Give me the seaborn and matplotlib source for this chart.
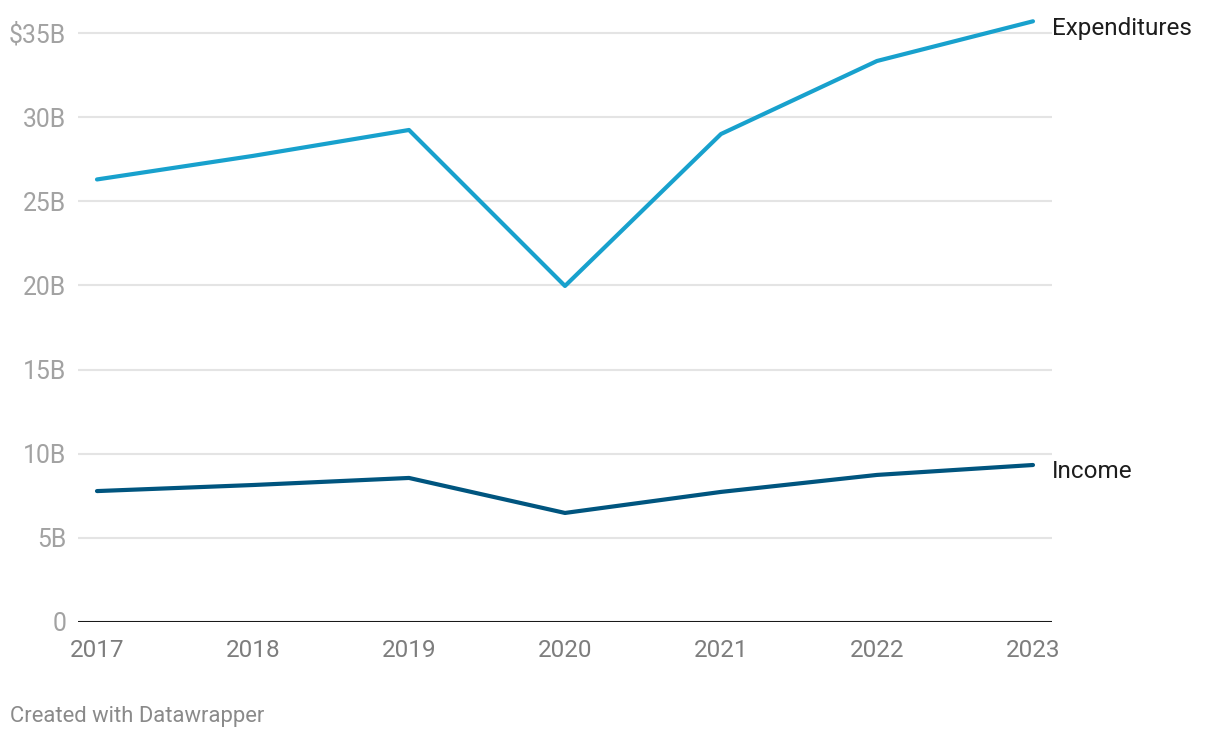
import pandas as pd
import matplotlib.pyplot as plt
import seaborn as sns

# values (billions of dollars)
years = [2017, 2018, 2019, 2020, 2021, 2022, 2023]
expenditures = [26.3, 27.7, 29.24, 19.97, 29.0, 33.34, 35.7]
income = [7.78, 8.14, 8.56, 6.48, 7.73, 8.74, 9.33]
yticks = [0, 5, 10, 15, 20, 25, 30, 35]
ytick_labels = ['0', '5B', '10B', '15B', '20B', '25B', '30B', '$35B']

df = pd.DataFrame({
    'year': years * 2,
    'value': expenditures + income,
    'series': ['Expenditures'] * len(years) + ['Income'] * len(years),
})

sns.set_style('white')
plt.rcParams['font.family'] = ['Roboto', 'DejaVu Sans']

fig = plt.figure(figsize=(12.2, 7.38), dpi=100)
ax = fig.add_axes([0.0639, 0.1572, 0.7984, 0.8208])

colors = {'Expenditures': '#18a1cd', 'Income': '#00557f'}
sns.lineplot(data=df, x='year', y='value', hue='series', palette=colors,
             linewidth=3, legend=False, ax=ax, zorder=3)

ax.set_xlim(2016.878, 2023.122)
ax.set_ylim(0, 36)
ax.set_yticks(yticks)
ax.set_yticklabels(ytick_labels)
ax.set_xticks(years)
ax.set_xticklabels([str(y) for y in years])
ax.grid(axis='y', color='#e4e4e4', linewidth=1.5, zorder=0)
ax.axhline(0, color='#1a1a1a', linewidth=2.2, zorder=4)
for s in ax.spines.values():
    s.set_visible(False)
ax.tick_params(axis='y', length=0, pad=8.5, labelsize=17.8, labelcolor='#a2a2a2')
ax.tick_params(axis='x', length=0, pad=12, labelsize=17.5, labelcolor='#7d7d7d')
ax.set_xlabel('')
ax.set_ylabel('')

# direct labels at line ends
ax.text(years[-1] + 0.12, expenditures[-1] - 0.4, 'Expenditures', fontsize=17.5,
        color='#1d1d1d', va='center', ha='left', clip_on=False)
ax.text(years[-1] + 0.12, income[-1] - 0.4, 'Income', fontsize=17.5,
        color='#1d1d1d', va='center', ha='left', clip_on=False)

fig.text(0.008, 0.029, 'Created with Datawrapper', fontsize=15.8, color='#8a8a8a',
         ha='left', va='center')

fig.savefig('out.png', dpi=100, facecolor='white')
